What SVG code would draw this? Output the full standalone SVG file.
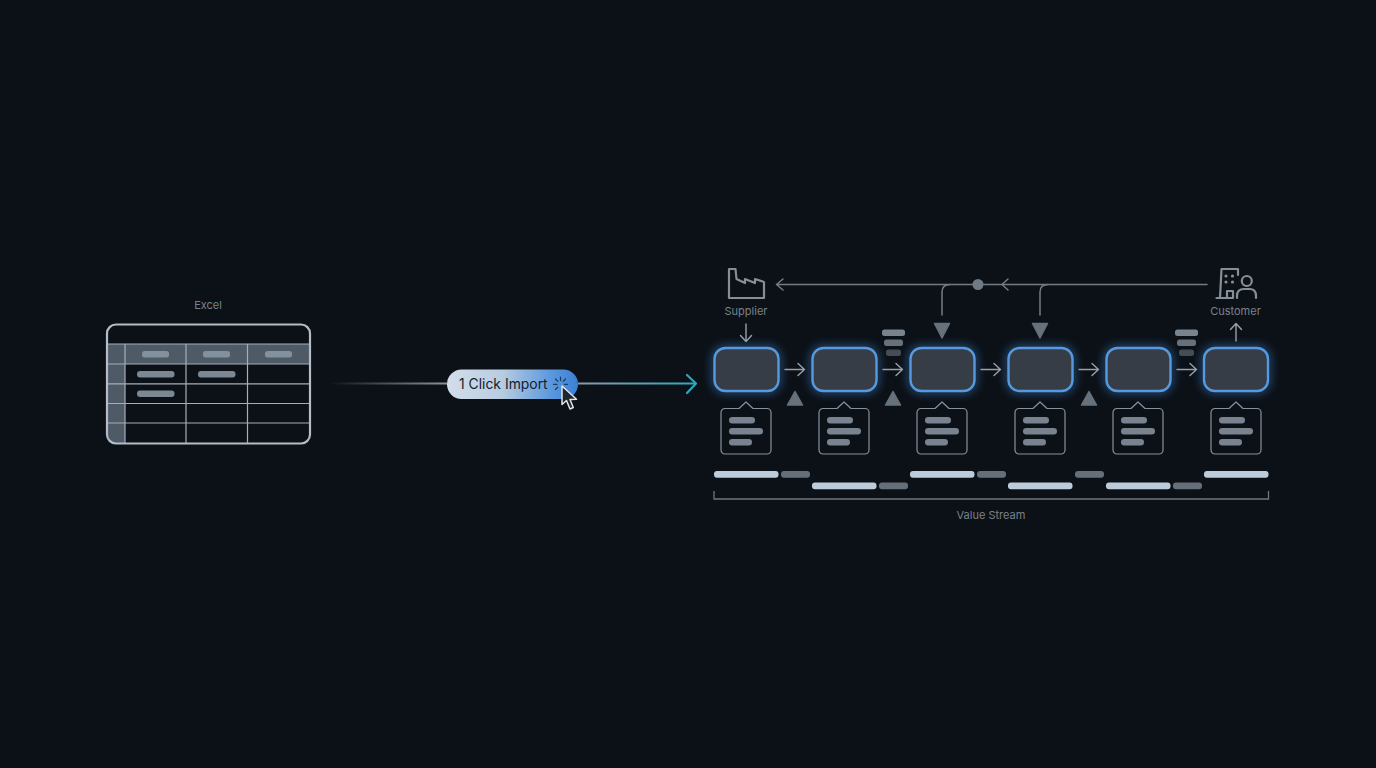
<svg xmlns="http://www.w3.org/2000/svg" width="1376" height="768" viewBox="0 0 1376 768">
<style>
text{font-family:"Inter","Liberation Sans",sans-serif}
.lbl{font-size:11px;fill:#79818a;text-anchor:middle}
.ln{fill:none;stroke:#98a1a9;stroke-width:1.4;stroke-linecap:round;stroke-linejoin:round}
.fb{fill:none;stroke:#737c85;stroke-width:1.5;stroke-linecap:round;stroke-linejoin:round}
.grid{stroke:#a3aeb9;stroke-width:1.2;fill:none}
.shade{fill:#4e5a65}
.hb{fill:#83909d}
.cb{fill:#7b8793}
.proc{fill:#373d46;stroke:#559ae0;stroke-width:2.4}
.glow{fill:none;stroke:#3f8fe0;stroke-width:6;opacity:.5}
.clip{fill:none;stroke:#87919a;stroke-width:1.2;stroke-linejoin:round}
.cbar{fill:#78838f}
.tri{fill:#66717b;stroke:#66717b;stroke-width:1.5;stroke-linejoin:round}
.lt{fill:#bdccdb}
.gt{fill:#656f7a}
.icon{fill:none;stroke:#868f98;stroke-width:2.2;stroke-linejoin:round;stroke-linecap:round}
</style>
<defs>
<linearGradient id="pill" x1="0" y1="0" x2="1" y2="0"><stop offset="0" stop-color="#d3deea"/><stop offset=".42" stop-color="#b8cce0"/><stop offset=".8" stop-color="#5a97dd"/><stop offset="1" stop-color="#3b80d6"/></linearGradient>
<linearGradient id="lineL" gradientUnits="userSpaceOnUse" x1="328" y1="0" x2="447" y2="0"><stop offset="0" stop-color="#8a939c" stop-opacity="0"/><stop offset="1" stop-color="#8a939c"/></linearGradient>
<linearGradient id="lineR" gradientUnits="userSpaceOnUse" x1="578" y1="0" x2="695" y2="0"><stop offset="0" stop-color="#8a9aa6"/><stop offset="1" stop-color="#2aa9bf"/></linearGradient>
<filter id="blur" x="-40%" y="-40%" width="180%" height="180%"><feGaussianBlur stdDeviation="4.500"/></filter>
<g id="step"><rect x="0" y="0" width="64" height="43" rx="11" class="glow" filter="url(#blur)"/><rect x="0" y="0" width="64" height="43" rx="11" class="proc"/></g>
<g id="card"><path class="clip" d="M4 6.500H18L25 0L32 6.500H46a4 4 0 0 1 4 4V48a4 4 0 0 1-4 4H4a4 4 0 0 1-4-4V10.500a4 4 0 0 1 4-4Z"/><rect class="cbar" x="8" y="15" width="26" height="6.500" rx="3.200"/><rect class="cbar" x="8" y="26" width="34" height="6.500" rx="3.200"/><rect class="cbar" x="8" y="37" width="23" height="6.500" rx="3.200"/></g>
<path id="flow" class="ln" d="M0 0H19M13 -6L19.500 0L13 6"/>
<path id="up" class="tri" d="M9 1.500L16.500 15H1.500Z"/>
<path id="down" class="tri" d="M1.500 1H16.500L9 15.500Z"/>
<g id="stack"><rect x="0" y="0" width="23" height="6.500" rx="2.500" fill="#78838d"/><rect x="2" y="10" width="19" height="6.500" rx="2.500" fill="#66717b"/><rect x="4" y="20" width="15" height="6.500" rx="2.500" fill="#444c55"/></g>
</defs>
<rect width="1376" height="768" fill="#0c1117"/>
<g id="connectors">
<path d="M328 383.500H447" stroke="url(#lineL)" stroke-width="2" fill="none"/>
<path d="M578 383.500H695" stroke="url(#lineR)" stroke-width="2" fill="none"/>
<path d="M687 375L696 383.500L687 393" fill="none" stroke="#2aa9bf" stroke-width="2.200" stroke-linecap="round" stroke-linejoin="round"/>
<path class="fb" d="M1207 284.500H777M783 279L776.500 284.500L783 290"/>
<path class="fb" d="M1008 279L1002 284.500L1008 290"/>
<path class="fb" d="M942 315V292Q942 284.500 950 284.500"/>
<path class="fb" d="M1040 315V292Q1040 284.500 1048 284.500"/>
<path class="ln" d="M746 324V341M740.500 335.500L746 341.500L751.500 335.500"/>
<path class="ln" d="M1236 341V324M1230.500 329.500L1236 323.500L1241.500 329.500"/>
<use href="#flow" x="785" y="369.500"/>
<use href="#flow" x="883" y="369.500"/>
<use href="#flow" x="981" y="369.500"/>
<use href="#flow" x="1079" y="369.500"/>
<use href="#flow" x="1177" y="369.500"/>
<circle cx="978" cy="284.500" r="5.500" fill="#6f7a85"/>
</g>

<g id="excel">
<text class="lbl" x="208" y="308.500">Excel</text>
<rect class="shade" x="108" y="344" width="201" height="20"/>
<path class="shade" d="M108 364H125V443.500H116a8 8 0 0 1-8-8Z"/>
<rect class="hb" x="142" y="351" width="27" height="6.500" rx="2.500"/>
<rect class="hb" x="203" y="351" width="27" height="6.500" rx="2.500"/>
<rect class="hb" x="265" y="351" width="27" height="6.500" rx="2.500"/>
<rect class="cb" x="137" y="371" width="37.500" height="6.500" rx="3"/>
<rect class="cb" x="198" y="371" width="37.500" height="6.500" rx="3"/>
<rect class="cb" x="137" y="390.500" width="37.500" height="6.500" rx="3"/>
<path class="grid" d="M107 344H310M107 364H310M107 383.800H310M107 403.500H310M107 423H310M125 344V444M186 344V444M247.500 344V444"/>
<rect x="107" y="324.500" width="203" height="119" rx="9" fill="none" stroke="#b4bdc7" stroke-width="2.200"/>
</g>

<g id="import">
<rect x="447" y="369.500" width="131" height="29.500" rx="14.700" fill="url(#pill)"/>
<text x="459" y="389.300" font-size="13.900" fill="#12202e">1 Click Import</text>
<path d="M560.500 377V380.500M553.500 384.300H557M564.500 384.300H567.500M555.500 379L557.800 381.300M565.500 379L563.200 381.300M555.500 389.500L557.800 387.200" stroke="#1c3a5c" stroke-width="1.200" stroke-linecap="round" fill="none"/>
<path d="M562 386V404.500L566.500 400.500L570 409L573.300 407.500L570 399.500L576.500 399.200Z" fill="#20262d" stroke="#e0e5ea" stroke-width="1.500" stroke-linejoin="round"/>
</g>

<g id="supplier">
<path class="icon" d="M729 269H735.500L736.500 279L745 283V279L755 283V279L764 282V298H729Z"/>
<text class="lbl" x="746" y="314.500">Supplier</text>
</g>
<g id="customer">
<path class="icon" d="M1220 298L1221.500 269H1238V275M1216.500 298H1233V291H1227V298"/>
<g fill="#868f98"><circle cx="1226" cy="276" r="1.600"/><circle cx="1232.500" cy="276" r="1.600"/><circle cx="1226" cy="282" r="1.600"/><circle cx="1232.500" cy="282" r="1.600"/></g>
<circle class="icon" cx="1246.800" cy="281" r="5"/>
<path class="icon" d="M1237 298V296Q1237 289 1244 289H1249.500Q1256 289 1256 296V298"/>
<text class="lbl" x="1235.500" y="314.500">Customer</text>
</g>

<g id="step1"><use href="#step" x="714.500" y="348"/><use href="#card" x="721" y="402"/></g>
<g id="step2"><use href="#step" x="812.500" y="348"/><use href="#card" x="819" y="402"/></g>
<g id="step3"><use href="#step" x="910.500" y="348"/><use href="#card" x="917" y="402"/></g>
<g id="step4"><use href="#step" x="1008.500" y="348"/><use href="#card" x="1015" y="402"/></g>
<g id="step5"><use href="#step" x="1106.500" y="348"/><use href="#card" x="1113" y="402"/></g>
<g id="step6"><use href="#step" x="1204" y="348"/><use href="#card" x="1211" y="402"/></g>

<g id="markers">
<use href="#up" x="786" y="390"/><use href="#up" x="884" y="390"/><use href="#up" x="1080" y="390"/>
<use href="#down" x="933" y="322.500"/><use href="#down" x="1031" y="322.500"/>
<use href="#stack" x="882" y="329.500"/><use href="#stack" x="1175" y="329.500"/>
</g>

<g id="timeline">
<rect class="lt" x="714" y="471" width="64.500" height="6.800" rx="3"/><rect class="gt" x="781" y="471" width="29" height="6.800" rx="3"/>
<rect class="lt" x="812" y="482.500" width="64.500" height="6.800" rx="3"/><rect class="gt" x="879" y="482.500" width="29" height="6.800" rx="3"/>
<rect class="lt" x="910" y="471" width="64.500" height="6.800" rx="3"/><rect class="gt" x="977" y="471" width="29" height="6.800" rx="3"/>
<rect class="lt" x="1008" y="482.500" width="64.500" height="6.800" rx="3"/><rect class="gt" x="1075" y="471" width="29" height="6.800" rx="3"/>
<rect class="lt" x="1106" y="482.500" width="64.500" height="6.800" rx="3"/><rect class="gt" x="1173" y="482.500" width="29" height="6.800" rx="3"/>
<rect class="lt" x="1204" y="471" width="64.500" height="6.800" rx="3"/>
<path d="M714 491V499H1268.500V491" fill="none" stroke="#6c7680" stroke-width="1.300"/>
<text class="lbl" x="991" y="518.500">Value Stream</text>
</g>
</svg>
